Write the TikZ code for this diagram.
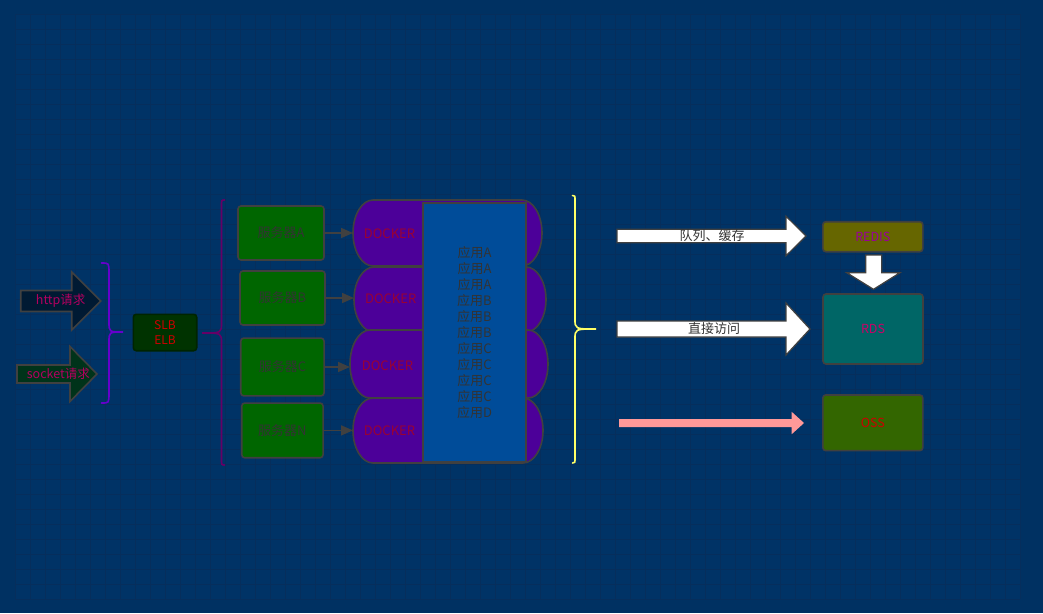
\documentclass[tikz,border=0pt]{standalone}
\usepackage{fontspec}
\setmainfont{Noto Sans CJK SC}
\usetikzlibrary{arrows.meta}

\definecolor{bgouter}{HTML}{003162}
\definecolor{bginner}{HTML}{003366}
\definecolor{gridcol}{HTML}{062E5C}
\definecolor{edgegray}{HTML}{404040}
\definecolor{txtgray}{HTML}{333333}
\definecolor{httpfill}{HTML}{001A33}
\definecolor{sockfill}{HTML}{00331A}
\definecolor{reqred}{HTML}{B3005F}
\definecolor{slbfill}{HTML}{003300}
\definecolor{slbred}{HTML}{CC0000}
\definecolor{srvgreen}{HTML}{006600}
\definecolor{dockpurple}{HTML}{4C0099}
\definecolor{dockred}{HTML}{990033}
\definecolor{appblue}{HTML}{004C99}
\definecolor{redisfill}{HTML}{666600}
\definecolor{redistxt}{HTML}{990099}
\definecolor{rdsfill}{HTML}{006666}
\definecolor{rdstxt}{HTML}{CC0066}
\definecolor{ossfill}{HTML}{336600}
\definecolor{bracevio}{HTML}{6600CC}
\definecolor{bracemag}{HTML}{660066}
\definecolor{braceyel}{HTML}{FFFF66}
\definecolor{pinkarrow}{HTML}{FF9999}

\tikzset{
  txt/.style={font=\fontsize{13}{16}\selectfont, inner sep=0pt, align=center},
  box/.style={draw=edgegray, line width=1.6pt, rounded corners=3pt, inner sep=0pt, align=center, font=\fontsize{13}{16}\selectfont},
  srvbox/.style={box, fill=srvgreen, text=txtgray},
  dbbox/.style={box, font=\fontsize{12.5}{15}\selectfont, minimum width=100},
  docktxt/.style={txt, text=dockred},
  srvarrow/.style={draw=edgegray, line width=1.6pt, -{Triangle[length=12pt,width=10pt]}},
  dockshape/.style={fill=dockpurple, draw=edgegray, line width=1.6pt},
  bigarrow/.style={fill=white, draw=edgegray, line width=1.2pt},
  bracepath/.style={line width=1.6pt, line cap=round},
}

% docker body: name, x1, x2, y1, y2
\newcommand{\dockbox}[5]{%
  \draw[dockshape] (#2+20,#4) -- (#3-20,#4)
    .. controls (#3-9,#4) and (#3,{#4+0.224*(#5-#4)}) .. (#3,{(#4+#5)/2})
    .. controls (#3,{#5-0.224*(#5-#4)}) and (#3-9,#5) .. (#3-20,#5)
    -- (#2+20,#5)
    .. controls (#2+9,#5) and (#2,{#5-0.224*(#5-#4)}) .. (#2,{(#4+#5)/2})
    .. controls (#2,{#4+0.224*(#5-#4)}) and (#2+9,#4) .. (#2+20,#4) -- cycle;
  \coordinate (#1) at (#2,{(#4+#5)/2});
}

% block arrow: style, x1, x2, y, shaft half, head half, head length
\newcommand{\blockarrow}[7]{%
  \path[#1] (#2,#4-#5) -- (#3-#7,#4-#5) -- (#3-#7,#4-#6) -- (#3,#4)
    -- (#3-#7,#4+#6) -- (#3-#7,#4+#5) -- (#2,#4+#5) -- cycle;
}

\begin{document}
\begin{tikzpicture}[x=1pt,y=-1pt]
  % background and grid
  \fill[bgouter] (0,0) rectangle (1043,613);
  \fill[bginner] (15,14) rectangle (1020,599);
  \foreach \gx in {15,30,...,1020} \draw[gridcol, line width=1pt] (\gx,14) -- (\gx,599);
  \foreach \gy in {14,29,...,599} \draw[gridcol, line width=1pt] (15,\gy) -- (1020,\gy);

  % requests
  \blockarrow{bigarrow, fill=httpfill, line width=1.6pt}{20.7}{100.7}{301}{10.5}{29}{29}
  \blockarrow{bigarrow, fill=sockfill, line width=1.6pt}{17}{97}{374}{9}{27.5}{27}
  \path (60.7,301) node[txt, text=reqred, font=\fontsize{12.5}{15}\selectfont] (http) {http请求};
  \path (58.3,374) node[txt, text=reqred, font=\fontsize{12.5}{15}\selectfont] (sock) {socket请求};
  \draw[bracepath, bracevio] (101.5,263) .. controls (109,263) .. (109,273) -- (109,322)
    .. controls (109,332) .. (123,332) .. controls (109,332) .. (109,342) -- (109,393)
    .. controls (109,403) .. (101.5,403);

  % load balancer
  \path (165,332.5) node[box, draw=slbfill!70!black, fill=slbfill, text=slbred,
    font=\fontsize{12}{15.7}\selectfont, minimum width=63.4, minimum height=36.4] (slb) {SLB\\ELB};
  \draw[bracepath, bracemag] (224.5,200) .. controls (221.5,200) .. (221.5,206) -- (221.5,323)
    .. controls (221.5,333) .. (202,333) .. controls (221.5,333) .. (221.5,343) -- (221.5,459)
    .. controls (221.5,465) .. (224.5,465);

  % servers
  \path (281,233) node[srvbox, minimum width=86, minimum height=54] (sA) {服务器A};
  \path (282.5,298) node[srvbox, minimum width=85, minimum height=54] (sB) {服务器B};
  \path (282.4,367) node[srvbox, minimum width=83.3, minimum height=57.7] (sC) {服务器C};
  \path (282.4,430.4) node[srvbox, minimum width=81.3, minimum height=54.7] (sN) {服务器N};

  % dockers
  \dockbox{dA}{353}{542}{200}{266}
  \dockbox{dB}{354}{546}{267}{332}
  \dockbox{dC}{350}{548}{330}{398}
  \dockbox{dN}{353}{543}{398}{463}
  \path (389.5,234) node[docktxt] (tA) {DOCKER};
  \path (390.7,299) node[docktxt] (tB) {DOCKER};
  \path (387.5,366) node[docktxt] (tC) {DOCKER};
  \path (389.5,431) node[docktxt] (tN) {DOCKER};
  \draw[srvarrow] (sA.east) -- (sA.east -| dA);
  \draw[srvarrow] (sB.east) -- (sB.east -| dB);
  \draw[srvarrow] (sC.east) -- (sC.east -| dC);
  \draw[srvarrow] (sN.east) -- (sN.east -| dN);

  % applications
  \path (474.5,332.5) node[box, rounded corners=0pt, fill=appblue, text=txtgray,
    minimum width=103, minimum height=259.3] (apps)
    {应用A\\应用A\\应用A\\应用B\\应用B\\应用B\\应用C\\应用C\\应用C\\应用C\\应用D};

  \draw[bracepath, braceyel] (572.5,195.5) .. controls (575,195.5) .. (575,201) -- (575,319)
    .. controls (575,329) .. (596,329) .. controls (575,329) .. (575,339) -- (575,457)
    .. controls (575,463) .. (572.5,463);

  % storage
  \blockarrow{bigarrow}{617}{806}{236}{6.8}{19.8}{20}
  \blockarrow{bigarrow}{617}{810}{329}{8}{26}{24}
  \blockarrow{fill=pinkarrow}{619}{804}{423}{4}{11.2}{12.3}
  \path (712,236) node[txt, text=txtgray] (queue) {队列、缓存};
  \path (714,329) node[txt, text=txtgray] (direct) {直接访问};

  \path (872.8,236.7) node[dbbox, fill=redisfill, text=redistxt, minimum height=30] (redis) {REDIS};
  \path (873,329) node[dbbox, fill=rdsfill, text=rdstxt, minimum height=70] (rds) {RDS};
  \path (872.8,422.8) node[dbbox, fill=ossfill, text=slbred, minimum height=55.7] (oss) {OSS};
  \path[bigarrow] (865.7,255) -- (881.7,255) -- (881.7,272.7) -- (900,272.7) -- (873.5,289.3)
    -- (846.7,272.7) -- (865.7,272.7) -- cycle;
\end{tikzpicture}
\end{document}
